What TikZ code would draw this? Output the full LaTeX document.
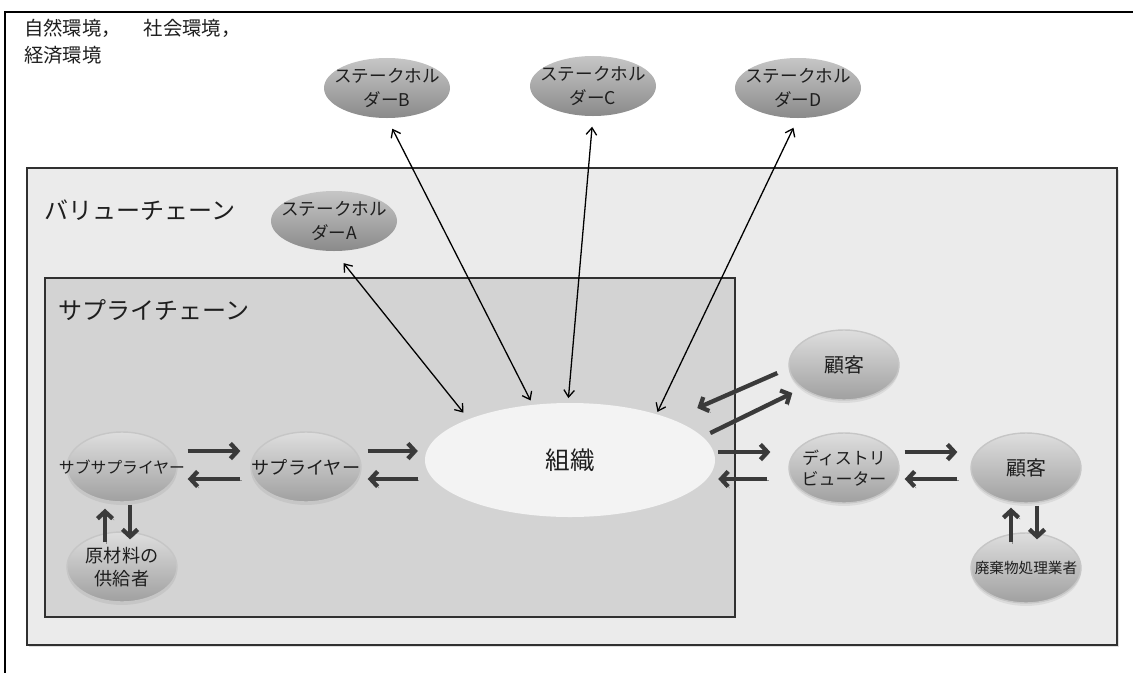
\documentclass[tikz,border=0pt]{standalone}
\usepackage{fontspec}
\setmainfont{Noto Sans CJK JP}
\usetikzlibrary{shapes.geometric,arrows.meta,calc,shadows}

\definecolor{vcgray}{HTML}{EBEBEB}
\definecolor{scgray}{HTML}{D3D3D3}
\definecolor{orgwhite}{HTML}{F3F3F3}
\definecolor{boxline}{HTML}{303030}
\definecolor{flowgray}{HTML}{3A3A3A}
\definecolor{shadegray}{HTML}{8E8E8E}
\definecolor{txtgray}{HTML}{1E1E1E}
\definecolor{unittop}{HTML}{DEDEDE}
\definecolor{unitbot}{HTML}{A0A0A0}
\definecolor{unitline}{HTML}{C6C6C6}
\definecolor{staketop}{HTML}{C6C6C6}
\definecolor{stakemid}{HTML}{C2C2C2}
\definecolor{stakebot}{HTML}{8A8A8A}

\begin{document}
\begin{tikzpicture}[x=0.03cm, y=-0.03cm,
    stake/.style = {ellipse, minimum width=3.78cm, minimum height=1.8cm, inner sep=0pt, top color=staketop, middle color=stakemid, bottom color=stakebot},
    unit/.style = {ellipse, minimum width=3.3cm, minimum height=2.1cm, inner sep=0pt, draw=unitline, line width=1.2pt, top color=unittop, bottom color=unitbot, drop shadow={opacity=0.15, shadow xshift=0pt, shadow yshift=-2.5pt}},
    stxt/.style = {font=\fontsize{15}{20}\selectfont, align=center, text=txtgray},
    utxt/.style = {font=\fontsize{15.5}{19}\selectfont, align=center, text=txtgray},
    flow/.style = {->, >={Straight Barb[length=6pt,width=13pt]}, line width=3.6pt, draw=flowgray, preaction={draw=shadegray, transform canvas={shift={(1.3pt,-1.3pt)}}}},
    link/.style = {<->, >={Straight Barb[length=6pt,width=9pt]}, line width=1.1pt}]
    \useasboundingbox (0,0) rectangle (1133,673);

    \draw[line width=1.7pt] (1133,12) -- (5,12) -- (5,673);
    \filldraw[fill=vcgray, draw=boxline, line width=1.6pt, drop shadow={opacity=0.25, shadow xshift=1.5pt, shadow yshift=-1.5pt}] (27,168) rectangle (1117,645);
    \filldraw[fill=scgray, draw=boxline, line width=1.8pt] (45,278) rectangle (735,617);

    \node[anchor=base west, text=txtgray, font=\fontsize{16.5}{20}\selectfont] (env1) at (20,35) {自然環境，\hspace{1.2em}社会環境，};
    \node[anchor=base west, text=txtgray, font=\fontsize{16.5}{20}\selectfont] (env2) at (20,62) {経済環境};
    \node[anchor=west, text=txtgray, font=\fontsize{20.5}{24}\selectfont] (vc) at (40,210) {バリューチェーン};
    \node[anchor=west, text=txtgray, font=\fontsize{20.5}{24}\selectfont] (sc) at (54,310) {サプライチェーン};

    \node[stake, label={[stxt]center:{ステークホル\\ダーA}}] (A) at (334,221) {};
    \node[stake, label={[stxt]center:{ステークホル\\ダーB}}] (B) at (387,88) {};
    \node[stake, label={[stxt]center:{ステークホル\\ダーC}}] (C) at (593,86) {};
    \node[stake, label={[stxt]center:{ステークホル\\ダーD}}] (D) at (798,88) {};

    \node[ellipse, minimum width=8.7cm, minimum height=3.42cm, fill=orgwhite, text=txtgray, font=\fontsize{21}{24}\selectfont] (org) at (570,460) {組織};

    \node[unit, label={[utxt, font=\fontsize{13.5}{16}\selectfont]center:サブサプライヤー}] (sub) at (122,467) {};
    \node[unit, label={[utxt]center:サプライヤー}] (sup) at (306,467) {};
    \node[unit, label={[utxt]center:{原材料の\\供給者}}] (raw) at (122,567) {};
    \node[unit, label={[utxt, font=\fontsize{17}{20}\selectfont]center:顧客}] (cus1) at (844,365) {};
    \node[unit, label={[utxt, font=\fontsize{14.5}{18}\selectfont]center:{ディストリ\\ビューター}}] (dist) at (844,468) {};
    \node[unit, label={[utxt, font=\fontsize{17}{20}\selectfont]center:顧客}] (cus2) at (1026,468) {};
    \node[unit, label={[utxt, font=\fontsize{12.5}{15}\selectfont]center:廃棄物処理業者}] (waste) at (1026,568) {};

    \path
    (A.south) edge[link, shorten <=13pt, shorten >=7pt] (org.158)
    (B.south) edge[link, shorten <=10pt, shorten >=4pt] (org.124)
    (C.south) edge[link, shorten <=9pt, shorten >=4pt] (org.92)
    (D.south) edge[link, shorten <=9pt, shorten >=2pt] (org.28)
    ;

    \path
    ($(sub.east)+(10,-16)$) edge[flow] ($(sup.west)+(-10,-16)$)
    ($(sup.west)+(-10,12)$) edge[flow] ($(sub.east)+(10,12)$)
    ($(sup.east)+(6,-16)$) edge[flow] ($(org.west)+(-7,-9)$)
    ($(org.west)+(-7,19)$) edge[flow] ($(sup.east)+(6,12)$)
    ($(org.east)+(3,-8)$) edge[flow] ($(dist.west)+(-18,-16)$)
    ($(dist.west)+(-21,11)$) edge[flow] ($(org.east)+(3,19)$)
    ($(dist.east)+(5,-16)$) edge[flow] ($(cus2.west)+(-13,-16)$)
    ($(cus2.west)+(-13,11)$) edge[flow] ($(dist.east)+(5,11)$)
    ($(raw.north)+(-17,11)$) edge[flow] ($(sub.south)+(-17,6)$)
    ($(sub.south)+(8,2)$) edge[flow] ($(raw.north)+(8,8)$)
    ($(waste.north)+(-15,10)$) edge[flow] ($(cus2.south)+(-15,4)$)
    ($(cus2.south)+(11,2)$) edge[flow] ($(waste.north)+(11,7)$)
    ($(cus1.west)+(-11,8)$) edge[flow] ($(org.east)+(-18,-52)$)
    ($(org.east)+(-5,-27)$) edge[flow] ($(cus1.west)+(4,28)$)
    ;
\end{tikzpicture}
\end{document}
